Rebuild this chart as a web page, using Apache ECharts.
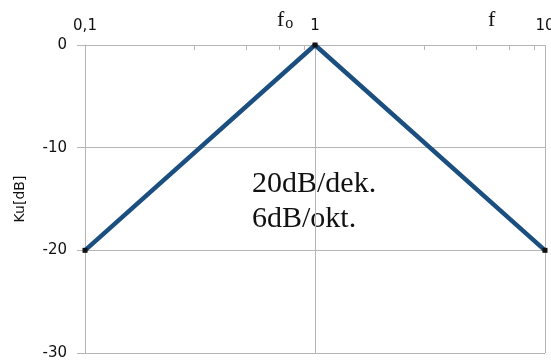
<!DOCTYPE html>
<html>
<head>
<meta charset="utf-8">
<script src="https://cdn.jsdelivr.net/npm/echarts@6/dist/echarts.min.js"></script>
<style>
  html, body { margin: 0; padding: 0; background: #fff; }
  #chart { width: 551px; height: 360px; }
</style>
</head>
<body>
<div id="chart"></div>
<script>
// frekvencia (log) es erosites
var freq = [0.1, 1, 10];
var gain = [-20, 0, -20];
var minorTicks = [0.3, 0.5, 0.7, 0.9, 3, 5, 7, 9];
var yTicks = [-30, -20, -10, 0];

var gridColor = "#b5b5b5";
var chart = echarts.init(document.getElementById("chart"));

var option = {
  backgroundColor: "#fff",
  animation: false,
  grid: {
    left: 85, right: 6, top: 45, bottom: 7,
    containLabel: false,
    outerBoundsMode: "none"
  },
  xAxis: [{
    type: "log",
    logBase: 10,
    min: freq[0],
    max: freq[freq.length - 1],
    position: "top",
    axisLine: { show: true, lineStyle: { color: gridColor, width: 1 } },
    axisTick: { show: false },
    axisLabel: {
      margin: 11,
      color: "#111",
      fontFamily: "DejaVu Sans",
      fontSize: 15,
      formatter: function (v) {
        return String(v).replace(".", ",");
      }
    },
    splitLine: { show: true, lineStyle: { color: gridColor, width: 1 } }
  }, {
    // csak a kis osztasok
    type: "log",
    logBase: 10,
    min: freq[0],
    max: freq[freq.length - 1],
    position: "top",
    axisLine: { show: false },
    axisLabel: { show: false },
    splitLine: { show: false },
    axisTick: {
      show: true,
      inside: true,
      length: 5,
      customValues: minorTicks,
      lineStyle: { color: gridColor, width: 1 }
    }
  }],
  yAxis: {
    type: "value",
    min: yTicks[0],
    max: yTicks[yTicks.length - 1],
    interval: 10,
    name: "Ku[dB]",
    nameLocation: "middle",
    nameGap: 58,
    nameTextStyle: { color: "#111", fontFamily: "DejaVu Sans", fontSize: 14 },
    axisLine: { show: true, lineStyle: { color: gridColor, width: 1 } },
    axisTick: { show: true, length: 8, lineStyle: { color: gridColor } },
    axisLabel: {
      margin: 18,
      color: "#111",
      fontFamily: "DejaVu Sans",
      fontSize: 15
    },
    splitLine: { show: true, lineStyle: { color: gridColor, width: 1 } }
  },
  series: [{
    type: "line",
    xAxisIndex: 0,
    data: freq.map(function (f, i) { return [f, gain[i]]; }),
    lineStyle: { color: "#1b4f80", width: 4.5 },
    itemStyle: { color: "#111" },
    symbol: "rect",
    symbolSize: 5,
    z: 5
  }],
  graphic: [{
    type: "text",
    left: 277,
    top: 9,
    style: {
      text: "{f|f}{o|o}",
      rich: {
        f: { fontFamily: "Liberation Serif", fontSize: 22, fill: "#111" },
        o: { fontFamily: "Liberation Serif", fontSize: 16, fill: "#111", padding: [8, 0, 0, 1] }
      }
    }
  }, {
    type: "text",
    left: 488,
    top: 9,
    style: { text: "f", fontFamily: "Liberation Serif", fontSize: 22, fill: "#111" }
  }, {
    type: "text",
    left: 252,
    top: 167,
    style: {
      text: "20dB/dek.\n6dB/okt.",
      fontFamily: "Liberation Serif",
      fontSize: 30,
      lineHeight: 35,
      fill: "#111"
    }
  }]
};

chart.setOption(option);
</script>
</body>
</html>
